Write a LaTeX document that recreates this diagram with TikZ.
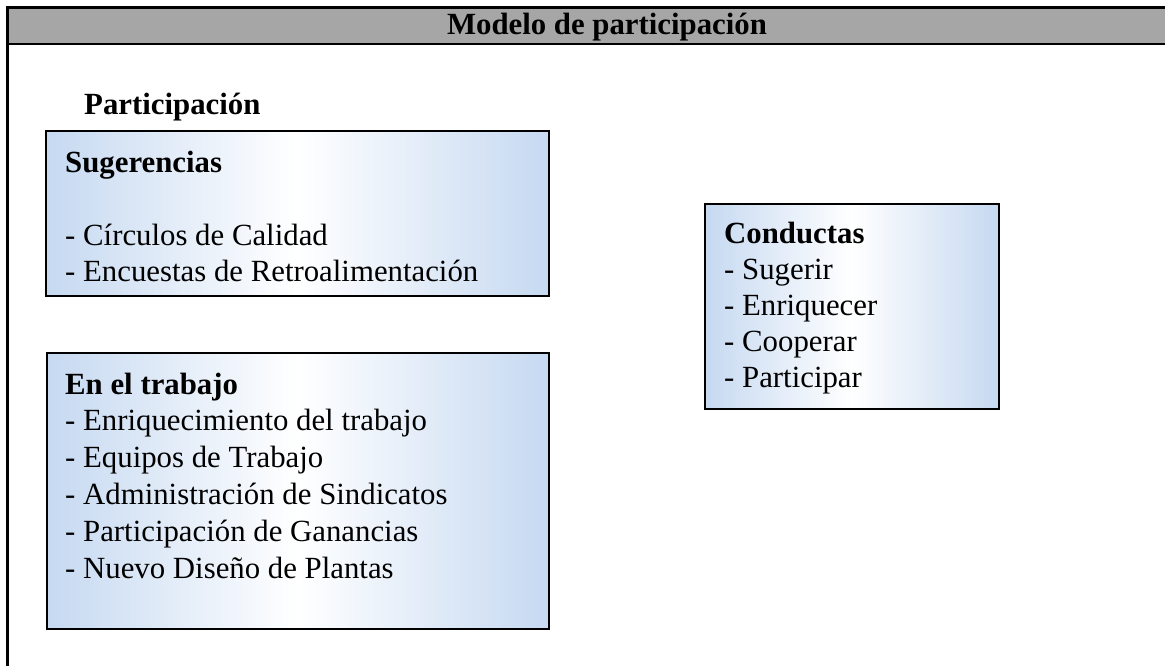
\documentclass[tikz,border=0pt]{standalone}
\usepackage{fontspec}
\setmainfont{Liberation Serif}
\definecolor{pblue}{RGB}{198,217,241}
\definecolor{bargray}{RGB}{166,166,166}
\begin{document}
\begin{tikzpicture}[x=1pt,y=-1pt,
  every node/.style={inner sep=0pt, font=\fontsize{30.8}{36}\selectfont},
  lbl/.style={anchor=base west},
  hd/.style={anchor=base west, font=\fontsize{30.8}{36}\selectfont\bfseries},
  panel/.style={draw=black, line width=1.6pt, left color=pblue, right color=pblue, middle color=white, anchor=north west, inner sep=0pt},
  frame/.style={line width=2.6pt, draw=black}
]
\useasboundingbox (0,0) rectangle (1165,666);
\clip (0,0) rectangle (1165,666);
% outer frame and title bar
\fill[bargray] (7,7) rectangle (1180,44);
\draw[frame] (7.5,680) -- (7.5,7.5) -- (1180,7.5);
\draw[frame] (7.5,44) -- (1180,44);
\node[anchor=base, font=\fontsize{30.8}{36}\selectfont\bfseries] (title) at (607,34.5) {Modelo de participación};

\node[hd] (part) at (84,115) {Participación};

% Sugerencias
\node[panel, minimum width=503pt, minimum height=165pt] (sug) at (45,130) {};
\node[hd] (sugh) at (65,172) {Sugerencias};
\node[lbl] (sug1) at (65,245) {- Círculos de Calidad};
\node[lbl] (sug2) at (65,281) {- Encuestas de Retroalimentación};

% En el trabajo
\node[panel, minimum width=502pt, minimum height=276pt] (trab) at (46,352) {};
\node[hd] (trabh) at (65,394) {En el trabajo};
\node[lbl] (trab1) at (65,430.8) {- Enriquecimiento del trabajo};
\node[lbl] (trab2) at (65,467.6) {- Equipos de Trabajo};
\node[lbl] (trab3) at (65,504.4) {- Administración de Sindicatos};
\node[lbl] (trab4) at (65,541.2) {- Participación de Ganancias};
\node[lbl] (trab5) at (65,578) {- Nuevo Diseño de Plantas};

% Conductas
\node[panel, minimum width=294pt, minimum height=205pt] (cond) at (704,203) {};
\node[hd] (condh) at (724,243) {Conductas};
\node[lbl] (cond1) at (724,279) {- Sugerir};
\node[lbl] (cond2) at (724,315) {- Enriquecer};
\node[lbl] (cond3) at (724,351) {- Cooperar};
\node[lbl] (cond4) at (724,387) {- Participar};
\end{tikzpicture}
\end{document}
